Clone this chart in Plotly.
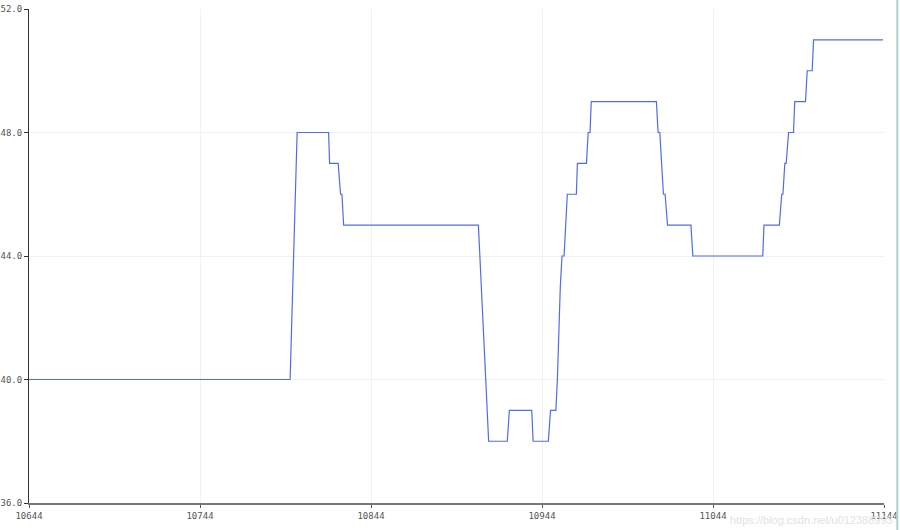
import plotly.graph_objects as go

# Sample index (x) and sensor reading (y) at each vertex of the trace
sample_index = [10644, 10796.7, 10800.8, 10819.2, 10819.8, 10824.8, 10826.2, 10827.0, 10828.0,
                10906.8, 10911.1, 10912.8, 10923.7, 10924.9, 10938.0, 10938.8, 10947.7, 10949.0,
                10952.1, 10953.0, 10954.7, 10955.7, 10956.9, 10958.8, 10964.1, 10964.7, 10970.0,
                10971.0, 10972.1, 10972.8, 11010.9, 11011.9, 11012.9, 11015.0, 11016.0, 11017.4,
                11031.1, 11032.2, 11073.1, 11073.8, 11082.8, 11084.2, 11084.9, 11086.0, 11086.8,
                11088.2, 11091.1, 11091.8, 11098.1, 11099.1, 11102.0, 11102.8, 11143.4]
reading = [140, 140, 148, 148, 147, 147, 146, 146, 145,
           145, 140, 138, 138, 139, 139, 138, 138, 139,
           139, 140, 143, 144, 144, 146, 146, 147, 147,
           148, 148, 149, 149, 148, 148, 146, 146, 145,
           145, 144, 144, 145, 145, 146, 146, 147, 147,
           148, 148, 149, 149, 150, 150, 151, 151]

x_ticks = [10644, 10744, 10844, 10944, 11044, 11144]
x_tick_labels = ["10644", "10744", "10844", "10944", "11044", "11144"]
y_ticks = [136, 140, 144, 148, 152]
y_tick_labels = ["136.0", "140.0", "144.0", "148.0", "152.0"]
watermark = "https://blog.csdn.net/u012388993"

fig = go.Figure()
fig.add_trace(go.Scatter(
    x=sample_index, y=reading, mode="lines",
    line=dict(color="#4d6cf5", width=1.2),
    hoverinfo="skip", showlegend=False,
))

tick_font = dict(family="DejaVu Sans Mono, monospace", size=9, color="#555555")

fig.update_layout(
    width=900, height=530,
    margin=dict(l=29, r=16, t=9, b=27, autoexpand=False),
    paper_bgcolor="white", plot_bgcolor="white",
    xaxis=dict(
        range=[10644, 11144], tickvals=x_ticks, ticktext=x_tick_labels,
        showgrid=True, gridcolor="#f1f1f1", gridwidth=1,
        zeroline=False, showline=True, linecolor="#777777", linewidth=1.5,
        ticks="outside", ticklen=3, tickcolor="#555555", tickwidth=1,
        tickfont=tick_font, automargin=False,
    ),
    yaxis=dict(
        range=[136, 152], tickvals=y_ticks, ticktext=y_tick_labels,
        showgrid=True, gridcolor="#f1f1f1", gridwidth=1,
        zeroline=False, showline=True, linecolor="#333333", linewidth=1,
        ticks="outside", ticklen=4, tickcolor="#333333", tickwidth=1,
        tickfont=tick_font, automargin=False,
    ),
    shapes=[
        dict(type="line", xref="paper", yref="paper", x0=1.0155, x1=1.0155, y0=-0.06, y1=1.03,
             line=dict(color="#a9d3d6", width=2)),
    ],
    annotations=[
        dict(text=watermark, xref="paper", yref="paper", x=1.013, y=-0.018,
             xanchor="right", yanchor="top", showarrow=False,
             font=dict(family="Liberation Sans, Arial, sans-serif", size=11, color="#e2e2e2")),
    ],
)

fig.write_html(
    "out.html",
    config={"displayModeBar": False},
    post_script="document.body.style.margin='0';document.body.style.overflow='hidden';",
)
